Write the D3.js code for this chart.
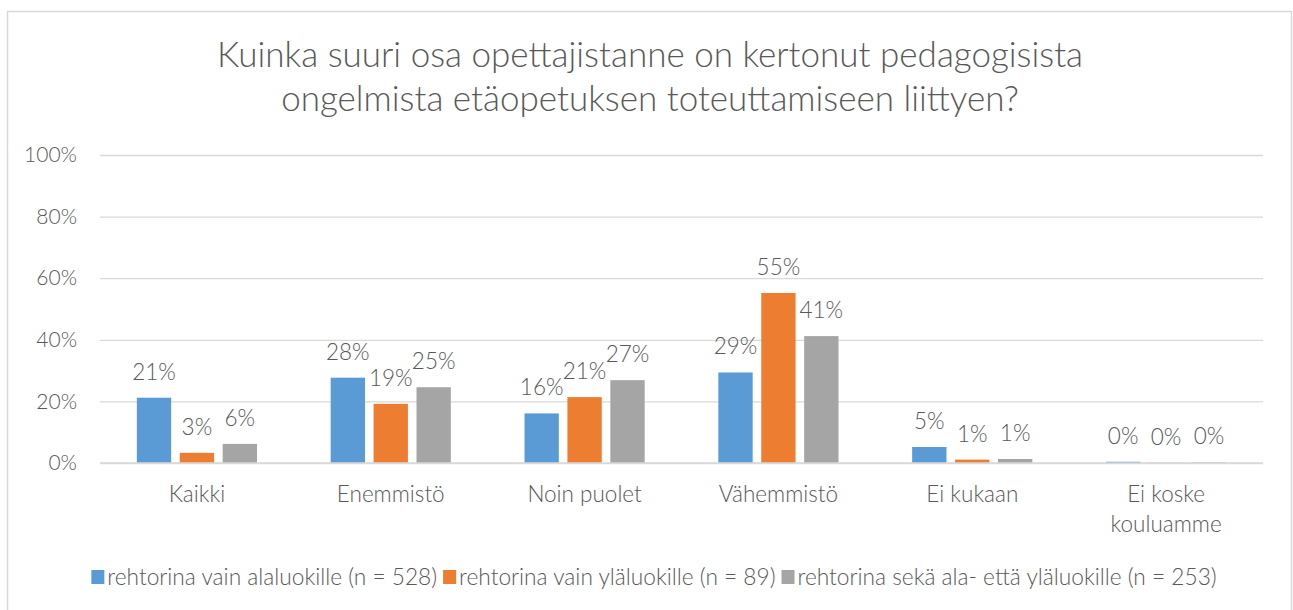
<!DOCTYPE html>
<html lang="fi">
<head>
    <meta charset="UTF-8">
    <title>Pedagogiset ongelmat</title>
    <script src="https://d3js.org/d3.v7.min.js"></script>
    <style>
        body { margin: 0; background: #fff; }
        text { font-family: Lato, "Open Sans", sans-serif; fill: #595959; font-weight: 300; }
    </style>
</head>
<body>
<svg width="1293" height="610"></svg>

<script>
    // data
    const categories = ["Kaikki", "Enemmistö", "Noin puolet", "Vähemmistö", "Ei kukaan", "Ei koske kouluamme"];
    const seriesNames = ["rehtorina vain alaluokille (n = 528)",
                         "rehtorina vain yläluokille (n = 89)",
                         "rehtorina sekä ala- että yläluokille (n = 253)"];
    const alaluokat  = [21.2, 27.7, 16.1, 29.4, 5.2, 0.4];
    const ylaluokat  = [3.3, 19.2, 21.4, 55.2, 1.1, 0.1];
    const molemmat   = [6.2, 24.6, 26.9, 41.2, 1.3, 0.2];
    const yTicks = [0, 20, 40, 60, 80, 100];
    const titleLines = ["Kuinka suuri osa opettajistanne on kertonut pedagogisista",
                        "ongelmista etäopetuksen toteuttamiseen liittyen?"];

    const colors = ["#5B9BD5", "#ED7D31", "#A5A5A5"];
    const seriesValues = [alaluokat, ylaluokat, molemmat];

    let svg = d3.select("svg");

    // chart frame
    svg.append("rect")
        .attr("x", 7.5).attr("y", 11.5)
        .attr("width", 1284).attr("height", 610)
        .attr("fill", "none").attr("stroke", "#d9d9d9").attr("stroke-width", 1.5);

    // title
    svg.append("g").selectAll("text")
        .data(titleLines)
        .enter().append("text")
        .attr("x", 650)
        .attr("y", (d, i) => 67 + i * 44)
        .attr("text-anchor", "middle")
        .attr("font-size", "35px")
        .text(d => d);

    const plotLeft = 100, plotRight = 1263, plotTop = 155, plotBottom = 463;

    let y = d3.scaleLinear().domain([0, 100]).range([plotBottom, plotTop]);
    let x0 = d3.scaleBand().domain(categories).range([plotLeft, plotRight])
        .paddingInner(0.38).paddingOuter(0.19);
    let x1 = d3.scaleBand().domain(d3.range(3)).range([0, x0.bandwidth()])
        .paddingInner(0.2);

    // gridlines + y labels
    let yAxis = d3.axisLeft(y).tickValues(yTicks)
        .tickSize(-(plotRight - plotLeft)).tickFormat(d => d + "%").tickPadding(23);
    let gy = svg.append("g").attr("transform", `translate(${plotLeft},0)`).call(yAxis);
    gy.select(".domain").remove();
    gy.selectAll("line").attr("stroke", "#d9d9d9").attr("stroke-width", 1.3);
    gy.selectAll("text").attr("font-size", "21px").attr("fill", "#595959")
        .attr("font-family", "Lato, 'Open Sans', sans-serif");

    // bars
    let groups = svg.append("g").selectAll("g")
        .data(categories)
        .enter().append("g")
        .attr("transform", d => `translate(${x0(d)},0)`);

    let cells = groups.selectAll("g")
        .data((c, ci) => seriesValues.map((s, si) => ({s: si, v: s[ci]})))
        .enter().append("g");

    cells.append("rect")
        .attr("x", d => x1(d.s))
        .attr("y", d => y(d.v))
        .attr("width", x1.bandwidth())
        .attr("height", d => y(0) - y(d.v))
        .attr("fill", d => colors[d.s]);

    cells.append("text")
        .attr("x", d => x1(d.s) + x1.bandwidth() / 2)
        .attr("y", d => y(d.v) - 18)
        .attr("text-anchor", "middle")
        .attr("font-size", "22.5px")
        .text(d => Math.round(d.v) + "%");

    // x axis line
    svg.append("line")
        .attr("x1", plotLeft).attr("x2", plotRight)
        .attr("y1", plotBottom).attr("y2", plotBottom)
        .attr("stroke", "#d9d9d9").attr("stroke-width", 1.5);

    // category labels (wrap last one)
    svg.append("g").selectAll("text")
        .data(categories)
        .enter().append("text")
        .attr("text-anchor", "middle")
        .attr("font-size", "22.5px")
        .attr("transform", d => `translate(${x0(d) + x0.bandwidth() / 2},502)`)
        .each(function (d) {
            let words = d === "Ei koske kouluamme" ? ["Ei koske", "kouluamme"] : [d];
            d3.select(this).selectAll("tspan").data(words).enter().append("tspan")
                .attr("x", 0).attr("dy", (w, i) => i ? 30 : 0).text(w => w);
        });

    // legend
    let legend = svg.append("g");
    let lx = 0;
    seriesNames.forEach(function (name, i) {
        let item = legend.append("g").attr("transform", `translate(${lx},0)`);
        item.append("rect").attr("x", 0).attr("y", -15).attr("width", 13).attr("height", 14)
            .attr("fill", colors[i]);
        let t = item.append("text").attr("x", 16).attr("y", 0)
            .attr("font-size", "22.7px").text(name);
        lx += 16 + t.node().getComputedTextLength() + 6;
    });
    legend.attr("transform", `translate(${654 - (lx - 6) / 2},585)`);
</script>
</body>
</html>
